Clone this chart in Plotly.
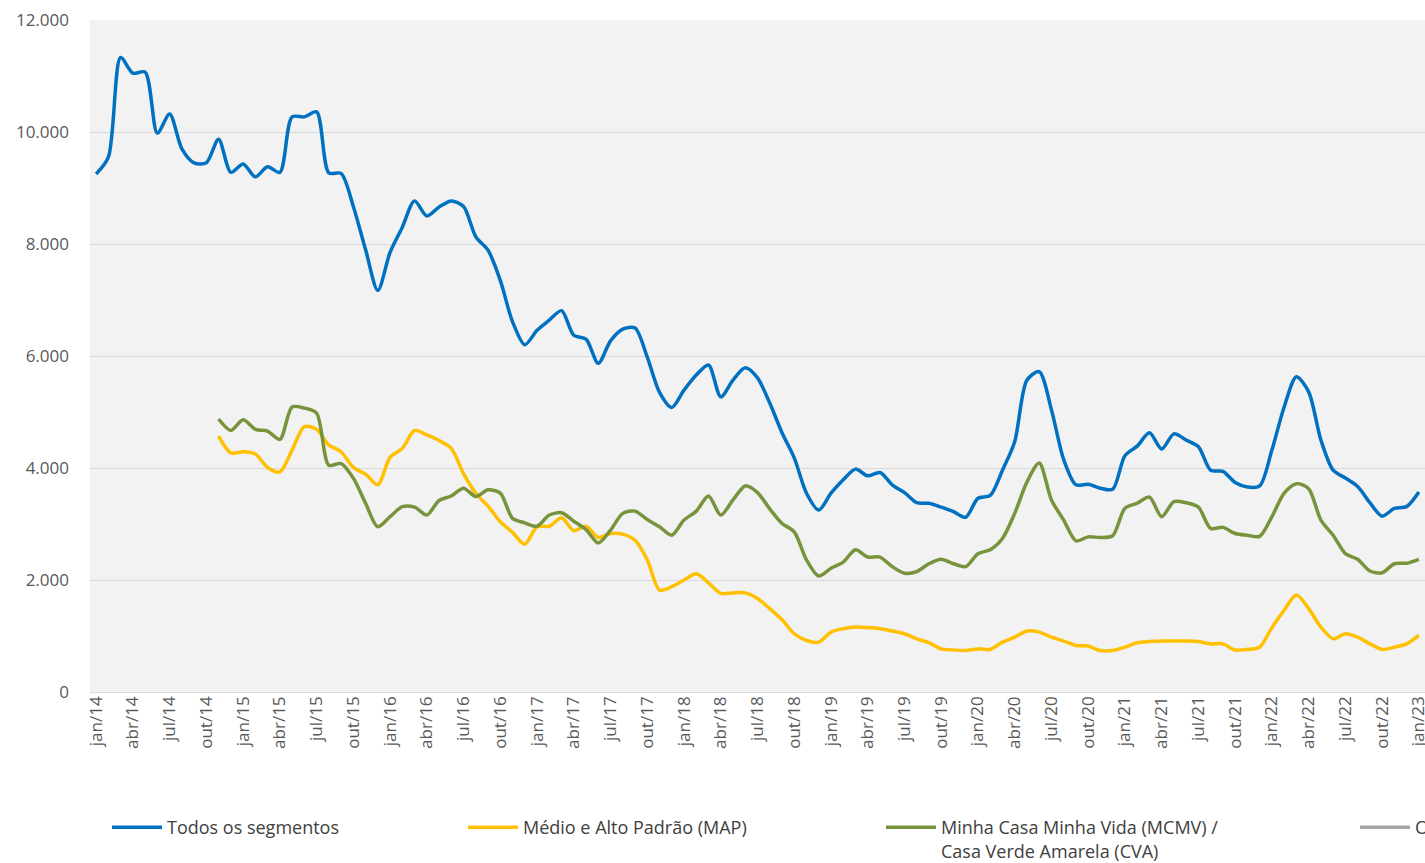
import plotly.graph_objects as go

months_pt = ["jan", "fev", "mar", "abr", "mai", "jun", "jul", "ago", "set", "out", "nov", "dez"]
categories = [f"{months_pt[i % 12]}/{14 + i // 12}" for i in range(109)]
tick_labels = categories[::3]

todos = [9250, 9550, 11330, 11050, 11070, 9980, 10320, 9700, 9450, 9450, 9870, 9280,
         9430, 9200, 9380, 9280, 10270, 10270, 10360, 9270, 9260, 8670, 7900, 7170,
         7850, 8300, 8770, 8500, 8660, 8770, 8670, 8130, 7890, 7350, 6610, 6200,
         6460, 6640, 6810, 6370, 6300, 5870, 6270, 6480, 6500, 5980, 5350, 5080,
         5390, 5660, 5840, 5270, 5570, 5790, 5610, 5160, 4630, 4180, 3550, 3250,
         3550, 3790, 3980, 3860, 3920, 3700, 3560, 3380, 3370, 3300, 3220, 3120,
         3460, 3510, 3960, 4470, 5570, 5720, 5040, 4150, 3700, 3710, 3640, 3620,
         4220, 4390, 4630, 4340, 4610, 4500, 4380, 3960, 3940, 3740, 3660, 3680,
         4320, 5090, 5630, 5360, 4500, 3960, 3820, 3670, 3380, 3140, 3280, 3310, 3570]

map_ = [None] * 10 + [
         4570, 4270,
         4290, 4250, 4010, 3930, 4320, 4740, 4690, 4410, 4290, 4010, 3890, 3700,
         4190, 4350, 4670, 4590, 4490, 4350, 3900, 3550, 3320, 3040, 2850, 2640,
         2950, 2960, 3110, 2880, 2960, 2760, 2830, 2820, 2710, 2360, 1820, 1880,
         2000, 2110, 1950, 1760, 1770, 1770, 1670, 1490, 1290, 1040, 920, 890,
         1070, 1130, 1160, 1150, 1130, 1090, 1040, 950, 880, 770, 750, 740,
         770, 760, 890, 980, 1090, 1070, 980, 910, 830, 820, 740, 740,
         800, 880, 900, 910, 910, 910, 900, 860, 860, 750, 760, 800,
         1150, 1460, 1730, 1490, 1160, 950, 1040, 980, 860, 760, 800, 860, 1010]

mcmv = [None] * 10 + [
         4875, 4670,
         4860, 4690, 4660, 4510, 5090, 5070, 4980, 4050, 4080, 3820, 3370, 2950,
         3130, 3310, 3300, 3160, 3420, 3500, 3640, 3490, 3610, 3550, 3100, 3020,
         2960, 3160, 3200, 3050, 2900, 2660, 2890, 3190, 3230, 3080, 2950, 2800,
         3070, 3230, 3500, 3160, 3430, 3680, 3560, 3270, 3010, 2860, 2360, 2070,
         2210, 2320, 2540, 2410, 2410, 2240, 2120, 2150, 2290, 2370, 2290, 2240,
         2470, 2540, 2740, 3190, 3750, 4090, 3430, 3070, 2700, 2770, 2760, 2790,
         3280, 3370, 3480, 3130, 3400, 3380, 3300, 2920, 2940, 2830, 2800, 2780,
         3130, 3550, 3720, 3630, 3070, 2800, 2470, 2370, 2160, 2130, 2290, 2300, 2370]

outros = [None] * 109

series_names = ["Todos os segmentos", "Médio e Alto Padrão (MAP)",
                "Minha Casa Minha Vida (MCMV) /<br>Casa Verde Amarela (CVA)", "Outros"]
series_values = [todos, map_, mcmv, outros]
colors = ["#0070C0", "#FFC000", "#77933C", "#A5A5A5"]
legend_ids = ["legend", "legend2", "legend3", "legend4"]

fig = go.Figure()
for name, vals, col, lg in zip(series_names, series_values, colors, legend_ids):
    fig.add_trace(go.Scatter(
        x=categories, y=vals, name=name, mode="lines",
        line=dict(color=col, width=3.5, shape="spline", smoothing=0.8),
        connectgaps=False, legend=lg, showlegend=True, hoverinfo="skip",
    ))

W, H = 1425, 863
ml, mr, mt, mb = 90, 0, 20, 171
pw = W - ml - mr
ph = H - mt - mb

def px_x(x):
    return (x - ml) / pw

def px_y(y):
    return (H - mb - y) / ph

legend_font = dict(family="Open Sans", size=18, color="#404040")
legend_common = dict(orientation="h", xanchor="left", yanchor="top",
                     bgcolor="rgba(0,0,0,0)", font=legend_font, itemwidth=50,
                     tracegroupgap=0, valign="top")
legend_x = [107, 463, 881, 1355]

layout_legends = {}
for lg, lx in zip(legend_ids, legend_x):
    layout_legends[lg] = dict(legend_common, x=px_x(lx), y=px_y(809))

fig.update_layout(
    width=W, height=H,
    margin=dict(l=ml, r=mr, t=mt, b=mb, autoexpand=False),
    paper_bgcolor="white",
    plot_bgcolor="#F2F2F2",
    separators=",.",
    font=dict(family="Open Sans", size=17, color="#595959"),
    **layout_legends,
)

fig.update_xaxes(
    type="category", categoryorder="array", categoryarray=categories,
    range=[-0.5, 108.5],
    tickmode="array", tickvals=tick_labels, ticktext=tick_labels,
    tickangle=-90, showgrid=False, zeroline=False, showline=False,
    ticks="", tickfont=dict(family="Open Sans", size=17, color="#595959"),
)
fig.update_yaxes(
    range=[0, 12000], dtick=2000, tickformat=",d",
    showgrid=True, gridcolor="#D9D9D9", gridwidth=1,
    zeroline=True, zerolinecolor="#D9D9D9", zerolinewidth=1,
    showline=False, ticks="", ticklabelstandoff=20,
    tickfont=dict(family="Open Sans", size=17, color="#595959"),
)

fig.write_html(
    "out.html",
    config={"displayModeBar": False},
    post_script="document.body.style.margin='0';document.body.style.overflow='hidden';",
)
